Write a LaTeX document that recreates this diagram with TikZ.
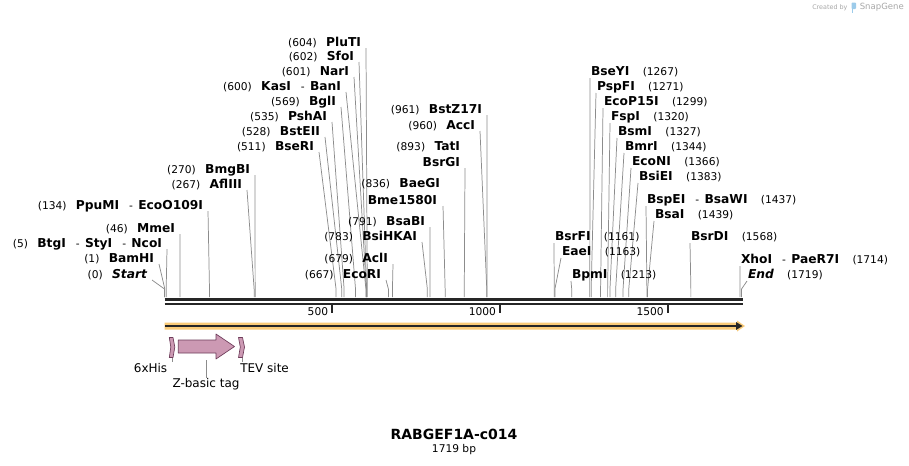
\documentclass[tikz,border=0pt]{standalone}
\usepackage{fontspec}
\setmainfont{DejaVu Sans}
\usetikzlibrary{calc}
\definecolor{leadgray}{HTML}{8C8C8C}
\definecolor{featfill}{HTML}{CC99B3}
\definecolor{featdraw}{HTML}{6E3C5A}
\definecolor{glow}{HTML}{FACB78}
\definecolor{darkline}{HTML}{262626}
\definecolor{logogray}{HTML}{A8A8A8}
\definecolor{logoblue}{HTML}{9CCBEA}
\newcommand\nm[1]{{\fontsize{9.2}{10}\selectfont\bfseries #1}}
\newcommand\nr[1]{{\fontsize{8}{9}\selectfont\mdseries #1}}
\newcommand\dsh{\hspace{7.5pt}\nr{-}\hspace{4pt}}
\newcommand\sitex[1]{{164.5+0.3357*#1}}
% left label: id, right x, centre y, number, name, bp
\newcommand\LL[6]{%
  \node[lbl,anchor=east] (#1) at (#2,#3) {\nr{#4}\hspace{7pt}\nm{#5}};
  \coordinate (#1s) at ({164.5+0.3357*#6},297);
  \draw[leader] ($(#1.east)+(5,5)$) -- ({164.5+0.3357*#6},289) -- (#1s);
}
% right label: id, left x, centre y, name, number, bp
\newcommand\RL[6]{%
  \node[lbl,anchor=west] (#1) at (#2,#3) {\nm{#4}\hspace{10pt}\nr{#5}};
  \coordinate (#1s) at ({164.5+0.3357*#6},297);
  \draw[leader] ($(#1.west)+(-1,6)$) -- ({164.5+0.3357*#6},289) -- (#1s);
}
\begin{document}
\begin{tikzpicture}[x=0.75pt,y=-0.75pt,
  lbl/.style={inner sep=0pt,outer sep=0pt},
  leader/.style={draw=leadgray,line width=0.55pt},
  feat/.style={fill=featfill,draw=featdraw,line width=0.5pt,line join=round},
  featlbl/.style={inner sep=0pt,font=\fontsize{9}{10}\selectfont},
  ticklbl/.style={inner sep=0pt,anchor=east,font=\fontsize{8}{9}\selectfont}]
\useasboundingbox (0,0) rectangle (909,465);
\fill[white] (0,0) rectangle (909,465);

% ---- left labels ----
\LL{start}{147}{275}{(0)}{\itshape Start}{0}
\LL{bamhi}{154}{259}{(1)}{BamHI}{1}
\LL{btgi}{162}{244}{(5)}{BtgI\dsh StyI\dsh NcoI}{5}
\LL{mmei}{175}{229}{(46)}{MmeI}{46}
\LL{ppumi}{203}{206}{(134)}{PpuMI\dsh EcoO109I}{134}
\LL{afliii}{242}{185}{(267)}{AflIII}{267}
\LL{bmgbi}{250}{170}{(270)}{BmgBI}{270}
\LL{bseri}{314}{147}{(511)}{BseRI}{511}
\LL{bsteii}{320}{132}{(528)}{BstEII}{528}
\LL{pshai}{327}{117}{(535)}{PshAI}{535}
\LL{bgli}{336}{102}{(569)}{BglI}{569}
\LL{kasi}{341}{87}{(600)}{KasI\dsh BanI}{600}
\LL{nari}{349}{72}{(601)}{NarI}{601}
\LL{sfoi}{354}{57}{(602)}{SfoI}{602}
\LL{pluti}{361}{43}{(604)}{PluTI}{604}

\LL{ecori}{381}{275}{(667)}{EcoRI}{667}
\LL{acli}{388}{259}{(679)}{AclI}{679}
\LL{bsihkai}{417}{237}{(783)}{BsiHKAI}{783}
\LL{bsabi}{425}{222}{(791)}{BsaBI}{791}
\node[lbl,anchor=east] (baegi) at (440,184) {\nr{(836)}\hspace{7pt}\nm{BaeGI}};
\node[lbl,anchor=east] (bme) at (437,200) {\nm{Bme1580I}};
\coordinate (bmes) at (\sitex{836},297);
\draw[leader] ($(bme.east)+(6,6)$) -- (\sitex{836},289) -- (bmes);
\node[lbl,anchor=east] (tati) at (460,147) {\nr{(893)}\hspace{7pt}\nm{TatI}};
\node[lbl,anchor=east] (bsrgi) at (460,162) {\nm{BsrGI}};
\coordinate (bsrgis) at (\sitex{893},297);
\draw[leader] ($(bsrgi.east)+(5,6)$) -- (\sitex{893},289) -- (bsrgis);
\LL{acci}{475}{126}{(960)}{AccI}{960}
\LL{bstz}{482}{110}{(961)}{BstZ17I}{961}

% ---- right labels ----
\RL{bseyi}{591}{72}{BseYI}{(1267)}{1267}
\RL{pspfi}{597}{87}{PspFI}{(1271)}{1271}
\RL{ecop}{604}{102}{EcoP15I}{(1299)}{1299}
\RL{fspi}{611}{117}{FspI}{(1320)}{1320}
\RL{bsmi}{618}{132}{BsmI}{(1327)}{1327}
\RL{bmri}{625}{147}{BmrI}{(1344)}{1344}
\RL{econi}{632}{162}{EcoNI}{(1366)}{1366}
\RL{bsiei}{639}{177}{BsiEI}{(1383)}{1383}
\RL{bspei}{647}{200}{BspEI\dsh BsaWI}{(1437)}{1437}
\RL{bsai}{655}{215}{BsaI}{(1439)}{1439}
\RL{bsrfi}{555}{237}{BsrFI}{(1161)}{1161}
\RL{eaei}{562}{252}{EaeI}{(1163)}{1163}
\RL{bpmi}{572}{275}{BpmI}{(1213)}{1213}
\RL{bsrdi}{691}{237}{BsrDI}{(1568)}{1568}
\RL{xhoi}{741}{260}{XhoI\dsh PaeR7I}{(1714)}{1714}
\RL{end}{748}{275}{\itshape End}{(1719)}{1719}

% ---- backbone ----
\coordinate (bbL) at (164.5,299.5);
\coordinate (bbR) at (743,299.5);
\draw[darkline,line width=1.9pt] (bbL) -- (bbR);
\draw[darkline,line width=1.9pt] (164.5,304) -- (743,304);
% ticks
\foreach \v/\t in {500/500,1000/1000,1500/1500}{
  \draw[darkline,line width=1.5pt] (\sitex{\v},305) -- (\sitex{\v},312.5);
  \node[ticklbl] (tk\v) at ({164.5+0.3357*\v-4},311.5) {\t};
}

% ---- ORF arrow ----
\fill[glow] (164.5,322.5) -- (737,322.5) -- (737,320.5) -- (745,326) -- (737,331.5) -- (737,329.5) -- (164.5,329.5) -- cycle;
\draw[darkline,line width=1.6pt] (165,326) -- (737,326);
\fill[darkline] (736,322) -- (742.5,326) -- (736,330) -- cycle;

% ---- features ----
\draw[feat] (169.3,337.5) -- (173,337.5) -- (174.8,347) -- (173,357.5) -- (169.3,357.5) -- (170.8,347) -- cycle;
\draw[feat] (178.3,340) -- (216,340) -- (216,334) -- (234.5,346.5) -- (216,359) -- (216,353) -- (178.3,353) -- cycle;
\draw[feat] (238.5,337.5) -- (242.5,337.5) -- (244.5,347) -- (242.5,357.5) -- (238.5,357.5) -- (240.3,347) -- cycle;
\node[featlbl,anchor=east] (his) at (167.5,368) {6xHis};
\node[featlbl] (zb) at (206,384) {Z-basic tag};
\node[featlbl,anchor=west] (tev) at (240,368) {TEV site};
\draw[leader] (172,358) -- (172,361.5);
\draw[leader] (206.5,360) -- (zb.north -| 206.5,0);
\draw[leader] (242.5,358) -- (242.5,361.5);

% ---- title ----
\node[inner sep=0pt,font=\fontsize{10.5}{12}\selectfont\bfseries] (title) at (454,434) {RABGEF1A-c014};
\node[inner sep=0pt,font=\fontsize{8}{9}\selectfont] (len) at (454,450) {1719 bp};

% ---- logo ----
\node[inner sep=0pt,anchor=west,text=logogray,font=\fontsize{4.8}{6}\selectfont] (cb) at (812,7.5) {Created by};
\fill[logoblue,rounded corners=0.6pt] (851.5,2.5) rectangle (856,9) ;
\fill[logoblue] (851.5,8) rectangle (853.3,12.5);
\node[inner sep=0pt,anchor=west,text=logogray,font=\fontsize{6.4}{8}\selectfont] (sg) at (859.5,7.5) {SnapGene};
\end{tikzpicture}
\end{document}
